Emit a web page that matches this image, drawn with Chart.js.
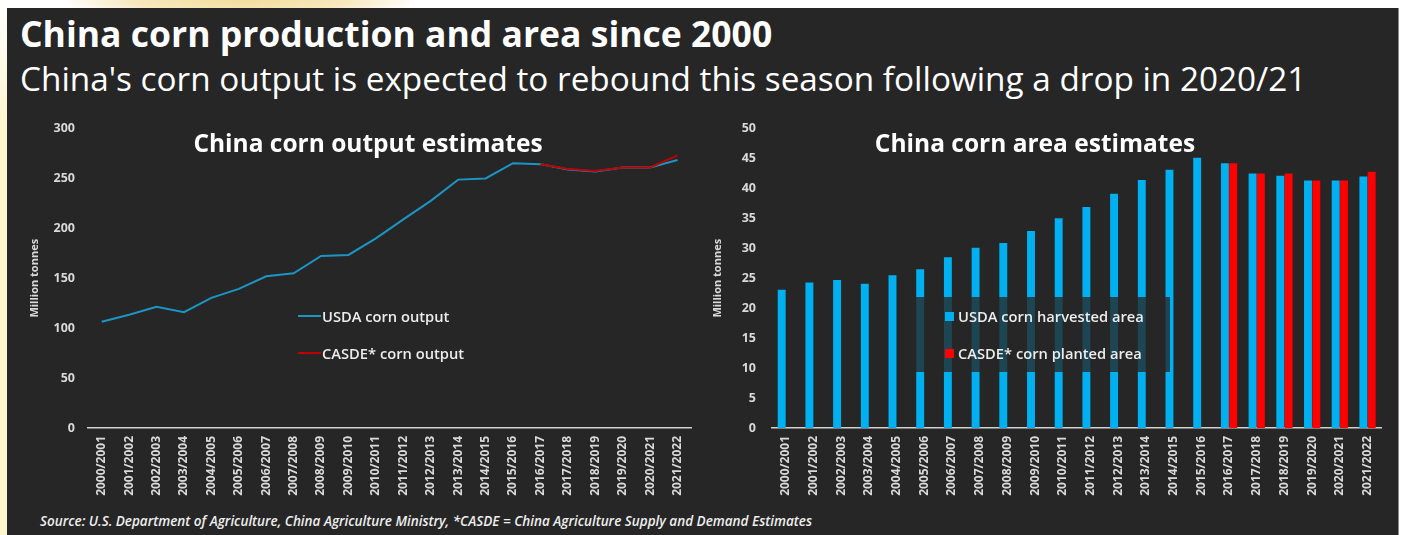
<!DOCTYPE html>
<html>
<head>
<meta charset="utf-8">
<script src="https://cdn.jsdelivr.net/npm/chart.js@4.4.0/dist/chart.umd.min.js"></script>
<style>
    html, body { margin: 0; padding: 0; }
    body {
        width: 1402px; height: 535px; position: relative; overflow: hidden;
        background: #fff; font-family: "Open Sans", sans-serif;
    }
    #strip { position: absolute; left: 0; top: 0; width: 7px; height: 535px;
        background: linear-gradient(#fff 0, #fdf6d0 120px); }
    #glow { position: absolute; left: 70px; top: -20px; width: 340px; height: 40px;
        background: radial-gradient(ellipse at center, #f3dc9c 0%, #f7e8bf 45%, rgba(255, 255, 255, 0) 75%); }
    #panel { position: absolute; left: 7px; top: 8px; width: 1391px; height: 527px;
        background: #262626; border-right: 1px solid #8a8a8a; }
    .txt { position: absolute; color: #fff; white-space: nowrap; }
    #title { left: 20px; top: 15.5px; font-size: 35.5px; line-height: 35.5px; font-weight: 700; }
    #subtitle { left: 20px; top: 61.5px; font-size: 33.3px; line-height: 33.3px; font-weight: 400; }
    .ctitle { top: 130px; height: 26px; line-height: 26px; font-size: 24.5px; font-weight: 700;
        transform: translateX(-50%); }
    .leg { height: 20px; line-height: 20px; font-size: 14.7px; font-weight: 600; color: #ececec; }
    #source { left: 40px; top: 511px; height: 20px; line-height: 20px; font-size: 13.5px;
        font-style: italic; font-weight: 600; color: #eee; }
    canvas { position: absolute; }
    #legBox { position: absolute; left: 912px; top: 297px; width: 258px; height: 75px;
        background: rgba(38, 38, 38, 0.78); }
</style>
</head>
<body>
<div id="strip"></div>
<div id="glow"></div>
<div id="panel"></div>

<div class="txt" id="title">China corn production and area since 2000</div>
<div class="txt" id="subtitle">China's corn output is expected to rebound this season following a drop in 2020/21</div>

<div id="wrapOut" style="position:absolute;left:24px;top:108px;width:676px;height:399px;">
    <canvas id="outputChart"></canvas>
</div>
<div id="wrapArea" style="position:absolute;left:707px;top:105px;width:683px;height:402px;">
    <canvas id="areaChart"></canvas>
</div>

<div class="txt ctitle" style="left:368px;">China corn output estimates</div>
<div class="txt ctitle" style="left:1035px;">China corn area estimates</div>

<!-- left legend -->
<div style="position:absolute;left:298px;top:315px;width:23px;height:2px;background:#1b95c4;"></div>
<div class="txt leg" style="left:322px;top:306px;">USDA corn output</div>
<div style="position:absolute;left:298px;top:352px;width:23px;height:2px;background:#c00000;"></div>
<div class="txt leg" style="left:322px;top:343px;">CASDE* corn output</div>

<!-- right legend (drawn over the bars) -->
<div id="legBox"></div>
<div style="position:absolute;left:945px;top:312px;width:9px;height:9px;background:#00b0f0;"></div>
<div class="txt leg" style="left:958px;top:306px;">USDA corn harvested area</div>
<div style="position:absolute;left:945px;top:349px;width:9px;height:9px;background:#ff0000;"></div>
<div class="txt leg" style="left:958px;top:343px;">CASDE* corn planted area</div>

<div class="txt" id="source">Source: U.S. Department of Agriculture, China Agriculture Ministry, *CASDE = China Agriculture Supply and Demand Estimates</div>

<script>
const seasons = [
    '2000/2001', '2001/2002', '2002/2003', '2003/2004', '2004/2005', '2005/2006',
    '2006/2007', '2007/2008', '2008/2009', '2009/2010', '2010/2011', '2011/2012',
    '2012/2013', '2013/2014', '2014/2015', '2015/2016', '2016/2017', '2017/2018',
    '2018/2019', '2019/2020', '2020/2021', '2021/2022'
];

// million tonnes
const usdaOutput = [106.5, 113.5, 121.5, 116, 130.3, 139.3, 152, 155, 172.4, 173.4, 190,
    209, 227.5, 248.8, 250, 265.3, 264.3, 259, 257, 261, 261, 268.5];
const casdeOutput = [null, null, null, null, null, null, null, null, null, null, null,
    null, null, null, null, null, 264.3, 259.5, 257.5, 261, 261, 273];

// area, axis labelled "Million tonnes" as in the original
const usdaArea = [23.1, 24.3, 24.7, 24.1, 25.5, 26.5, 28.5, 30.1, 30.9, 32.9, 35.0,
    36.9, 39.1, 41.4, 43.1, 45.1, 44.2, 42.5, 42.1, 41.3, 41.3, 42.0];
const casdeArea = [null, null, null, null, null, null, null, null, null, null, null,
    null, null, null, null, null, 44.2, 42.5, 42.5, 41.3, 41.3, 42.8];

const outputAxis = { min: 0, max: 300, step: 50 };
const areaAxis = { min: 0, max: 50, step: 5 };

const TICK_COLOR = '#d9d9d9';

Chart.defaults.font.family = "'Open Sans', sans-serif";
Chart.defaults.animation = false;

function xScale() {
    return {
        offset: true,
        grid: { display: false, drawTicks: false },
        border: { display: true, color: '#d0d0d0', width: 1.5 },
        ticks: {
            color: TICK_COLOR,
            font: { size: 12, weight: 'bold' },
            minRotation: 90,
            maxRotation: 90,
            autoSkip: false,
            padding: 8,
        },
        afterFit: (s) => { s.height = 79; },
    };
}

function yScale(axis, width, pad) {
    return {
        min: axis.min,
        max: axis.max,
        grid: { display: false, drawTicks: false },
        border: { display: false },
        ticks: {
            stepSize: axis.step,
            color: TICK_COLOR,
            font: { size: 12.5, weight: 'bold' },
            padding: pad,
        },
        title: {
            display: true,
            text: 'Million tonnes',
            color: TICK_COLOR,
            font: { size: 11, weight: 'bold' },
        },
        afterFit: (s) => { s.width = width; },
    };
}

const commonPlugins = {
    legend: { display: false },
    tooltip: { enabled: false },
};

new Chart(document.getElementById('outputChart'), {
    type: 'line',
    data: {
        labels: seasons,
        datasets: [
            {
                label: 'USDA corn output',
                data: usdaOutput,
                borderColor: '#1b95c4',
                borderWidth: 2,
                pointRadius: 0,
                tension: 0,
                order: 1,
            },
            {
                label: 'CASDE* corn output',
                data: casdeOutput,
                borderColor: '#c00000',
                borderWidth: 2,
                pointRadius: 0,
                tension: 0,
                order: 0,
            },
        ]
    },
    options: {
        responsive: true,
        maintainAspectRatio: false,
        layout: { padding: { top: 2, right: 3, left: 0, bottom: 0 } },
        scales: {
            x: xScale(),
            y: yScale(outputAxis, 64, 13),
        },
        plugins: commonPlugins,
    }
});

new Chart(document.getElementById('areaChart'), {
    type: 'bar',
    data: {
        labels: seasons,
        datasets: [
            {
                label: 'USDA corn harvested area',
                data: usdaArea,
                backgroundColor: '#00b0f0',
                categoryPercentage: 0.6,
                barPercentage: 0.955,
            },
            {
                label: 'CASDE* corn planted area',
                data: casdeArea,
                backgroundColor: '#ff0000',
                categoryPercentage: 0.6,
                barPercentage: 0.955,
            },
        ]
    },
    options: {
        responsive: true,
        maintainAspectRatio: false,
        layout: { padding: { top: 2, right: 3, left: 0, bottom: 0 } },
        scales: {
            x: xScale(),
            y: yScale(areaAxis, 65, 16),
        },
        plugins: commonPlugins,
    }
});
</script>
</body>
</html>
